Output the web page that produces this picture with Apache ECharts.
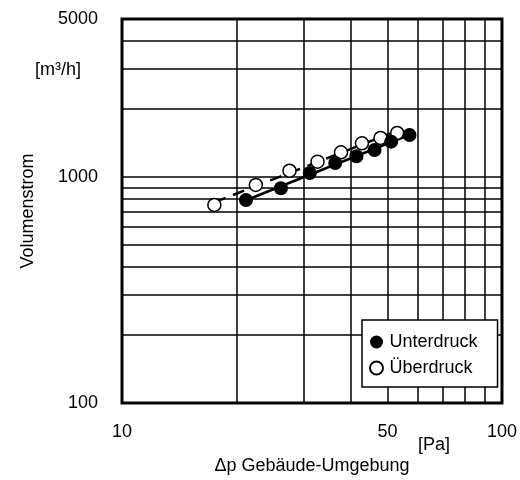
<!DOCTYPE html>
<html>
<head>
<meta charset="utf-8">
<script src="https://cdn.jsdelivr.net/npm/echarts@6/dist/echarts.min.js"></script>
<style>
	html, body { margin: 0; padding: 0; background: #fff; }
	#chart { width: 520px; height: 480px; }
</style>
</head>
<body>
<div id="chart"></div>
<script>
// Messwerte Unterdruck / Überdruck
var dpUnter = [21.2, 26.2, 31.2, 36.4, 41.4, 46.2, 51.1, 57.1];
var volUnter = [791, 891, 1041, 1153, 1235, 1317, 1433, 1534];
var dpUeber = [17.5, 22.5, 27.6, 32.7, 37.7, 42.8, 47.9, 53.0];
var volUeber = [752, 922, 1066, 1169, 1286, 1410, 1488, 1566];

var xGrid = [10, 20, 30, 40, 50, 60, 70, 80, 90, 100];
var xLabels = [10, 50, 100];
var yGrid = [100, 200, 300, 400, 500, 600, 700, 800, 900, 1000, 2000, 3000, 4000, 5000];
var yLabels = [100, 1000, 5000];

function pairs(xs, ys) {
	return xs.map(function (x, i) { return [x, ys[i]]; });
}

// Ausgleichsgerade im log-log Raum
function fitLine(xs, ys) {
	var n = xs.length, sx = 0, sy = 0, sxx = 0, sxy = 0;
	for (var i = 0; i < n; i++) {
		var lx = Math.log10(xs[i]), ly = Math.log10(ys[i]);
		sx += lx; sy += ly; sxx += lx * lx; sxy += lx * ly;
	}
	var b = (n * sxy - sx * sy) / (n * sxx - sx * sx);
	var a = (sy - b * sx) / n;
	var x0 = Math.min.apply(null, xs), x1 = Math.max.apply(null, xs);
	return [[x0, Math.pow(10, a + b * Math.log10(x0))], [x1, Math.pow(10, a + b * Math.log10(x1))]];
}

var font = 'Liberation Sans, Arial, sans-serif';
var fs = 18;
var myChart = echarts.init(document.getElementById('chart'));

var option = {
	animation: false,
	backgroundColor: '#fff',
	textStyle: { fontFamily: font, color: '#000' },
	grid: {
		left: 122, right: 15, top: 19, bottom: 76,
		show: true, borderColor: '#000', borderWidth: 3
	},
	xAxis: {
		type: 'log', logBase: 10, min: 10, max: 100,
		name: 'Δp Gebäude-Umgebung', nameLocation: 'middle', nameGap: 54,
		nameTextStyle: { fontSize: fs, fontFamily: font, color: '#000' },
		axisLine: { show: false },
		axisTick: { show: false, customValues: xGrid },
		axisLabel: {
			customValues: xLabels, fontSize: fs, fontFamily: font, color: '#000', margin: 20,
			formatter: function (v) { return String(v); }
		},
		splitLine: { show: true, lineStyle: { color: '#000', width: 1.5 } }
	},
	yAxis: {
		type: 'log', logBase: 10, min: 100, max: 5000,
		name: 'Volumenstrom', nameLocation: 'middle', nameGap: 85, nameRotate: 90,
		nameTextStyle: { fontSize: fs, fontFamily: font, color: '#000' },
		axisLine: { show: false },
		axisTick: { show: false, customValues: yGrid },
		axisLabel: {
			customValues: yLabels, fontSize: fs, fontFamily: font, color: '#000', margin: 24,
			formatter: function (v) { return String(v); }
		},
		splitLine: { show: true, lineStyle: { color: '#000', width: 1.5 } }
	},
	legend: {
		data: ['Unterdruck', 'Überdruck'],
		orient: 'vertical',
		left: 362, top: 320,
		padding: [13, 20, 10, 7],
		itemGap: 8,
		itemWidth: 16, itemHeight: 13,
		backgroundColor: '#fff',
		borderColor: '#000', borderWidth: 1.5, borderRadius: 0,
		textStyle: { fontSize: fs, fontFamily: font, color: '#000' }
	},
	graphic: [
		{ type: 'text', left: 35, top: 61, style: { text: '[m³/h]', font: fs + 'px ' + font, fill: '#000' } },
		{ type: 'text', left: 418, top: 436, style: { text: '[Pa]', font: fs + 'px ' + font, fill: '#000' } }
	],
	series: [
		{
			name: 'Fit Überdruck', type: 'line', data: fitLine(dpUeber, volUeber),
			symbol: 'none', lineStyle: { color: '#000', width: 2.5, type: [12, 8] }, z: 2
		},
		{
			name: 'Fit Unterdruck', type: 'line', data: fitLine(dpUnter, volUnter),
			symbol: 'none', lineStyle: { color: '#000', width: 2.5 }, z: 2
		},
		{
			name: 'Überdruck', type: 'scatter', data: pairs(dpUeber, volUeber),
			symbol: 'circle', symbolSize: 13,
			itemStyle: { color: '#fff', borderColor: '#000', borderWidth: 1.5, opacity: 1 }, z: 3
		},
		{
			name: 'Unterdruck', type: 'scatter', data: pairs(dpUnter, volUnter),
			symbol: 'circle', symbolSize: 14,
			itemStyle: { color: '#000', opacity: 1 }, z: 4
		}
	]
};
myChart.setOption(option);
</script>
</body>
</html>
